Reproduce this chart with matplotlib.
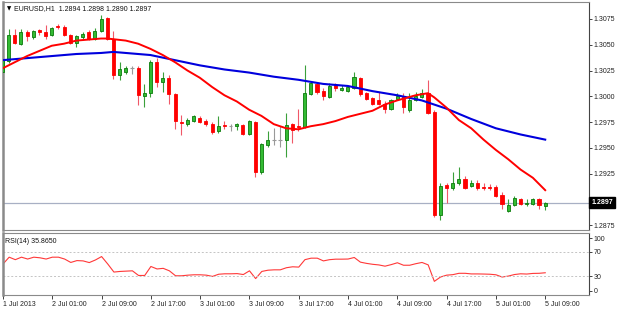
import numpy as np
import matplotlib.pyplot as plt
import matplotlib.transforms as mtransforms

# EURUSD H1 candles, 1 Jul 17:00 -> 5 Jul 09:00
opens = [1.3024, 1.3034, 1.3059, 1.3051, 1.3062, 1.3057, 1.3064, 1.3062, 1.3059, 1.3068,
         1.3067, 1.3059, 1.3052, 1.3057, 1.3062, 1.3056, 1.3063, 1.3076, 1.3056, 1.3021,
         1.3024, 1.3027, 1.3027, 1.3000, 1.3003, 1.3033, 1.3014, 1.3018, 1.3002, 1.2975,
         1.2973, 1.2976, 1.2979, 1.2976, 1.2973, 1.2966, 1.2972, 1.2971, 1.2971, 1.2972,
         1.2963, 1.2975, 1.2927, 1.2953, 1.2958, 1.2958, 1.2958, 1.2973, 1.2971, 1.2970,
         1.3002, 1.3012, 1.3005, 1.2999, 1.3011, 1.3006, 1.3005, 1.3008, 1.3018, 1.3003,
         1.2998, 1.2996, 1.2993, 1.2988, 1.2997, 1.3000, 1.2987, 1.2996, 1.2999, 1.3003,
         1.2985, 1.2885, 1.2914, 1.2911, 1.2916, 1.2920, 1.2913, 1.2916, 1.2912, 1.2912,
         1.2912, 1.2904, 1.2889, 1.2895, 1.2900, 1.2896, 1.2896, 1.2900, 1.2894]
highs = [1.3038, 1.3065, 1.3065, 1.3065, 1.3064, 1.3064, 1.3065, 1.3069, 1.3067, 1.3070,
         1.3069, 1.3060, 1.3059, 1.3062, 1.3064, 1.3066, 1.3079, 1.3077, 1.3063, 1.3033,
         1.3029, 1.3029, 1.3029, 1.3012, 1.3035, 1.3037, 1.3024, 1.3021, 1.3003, 1.2982,
         1.2979, 1.2982, 1.2981, 1.2978, 1.2975, 1.2981, 1.2976, 1.2973, 1.2974, 1.2973,
         1.2977, 1.2976, 1.2955, 1.2966, 1.2969, 1.2971, 1.2984, 1.2974, 1.2988, 1.3030,
         1.3014, 1.3013, 1.3008, 1.3013, 1.3013, 1.3011, 1.3010, 1.3024, 1.3019, 1.3004,
         1.2999, 1.3004, 1.2995, 1.2997, 1.3003, 1.3003, 1.3003, 1.3004, 1.3007, 1.3016,
         1.2987, 1.2916, 1.2916, 1.2927, 1.2931, 1.2923, 1.2919, 1.2919, 1.2916, 1.2915,
         1.2914, 1.2907, 1.2900, 1.2903, 1.2901, 1.2900, 1.2901, 1.2901, 1.2898]
lows = [1.3013, 1.3032, 1.3051, 1.3050, 1.3054, 1.3056, 1.3059, 1.3056, 1.3058, 1.3065,
        1.3058, 1.3051, 1.3048, 1.3056, 1.3055, 1.3055, 1.3062, 1.3055, 1.3017, 1.3016,
        1.3022, 1.3022, 1.2992, 1.2990, 1.2999, 1.3009, 1.3004, 1.2993, 1.2968, 1.2962,
        1.2971, 1.2975, 1.2974, 1.2971, 1.2963, 1.2964, 1.2968, 1.2966, 1.2967, 1.2962,
        1.2962, 1.2922, 1.2925, 1.2951, 1.2953, 1.2951, 1.2941, 1.2955, 1.2966, 1.2969,
        1.3001, 1.3002, 1.2996, 1.2998, 1.3005, 1.3005, 1.3004, 1.3007, 1.3000, 1.2996,
        1.2992, 1.2992, 1.2984, 1.2987, 1.2996, 1.2984, 1.2985, 1.2995, 1.2998, 1.2983,
        1.2883, 1.2880, 1.2897, 1.2909, 1.2914, 1.2910, 1.2912, 1.2909, 1.2909, 1.2909,
        1.2902, 1.2891, 1.2888, 1.2894, 1.2895, 1.2894, 1.2895, 1.2891, 1.2890]
closes = [1.3035, 1.3059, 1.3052, 1.3062, 1.3058, 1.3063, 1.3062, 1.3058, 1.3066, 1.3067,
          1.3059, 1.3052, 1.3058, 1.3060, 1.3056, 1.3063, 1.3075, 1.3056, 1.3021, 1.3026,
          1.3027, 1.3027, 1.3001, 1.3003, 1.3033, 1.3014, 1.3018, 1.3002, 1.2976, 1.2974,
          1.2977, 1.2981, 1.2975, 1.2973, 1.2965, 1.2971, 1.2971, 1.2971, 1.2973, 1.2963,
          1.2976, 1.2927, 1.2954, 1.2958, 1.2958, 1.2958, 1.2972, 1.2967, 1.2970, 1.3003,
          1.3013, 1.3004, 1.3000, 1.3010, 1.3008, 1.3008, 1.3009, 1.3019, 1.3002, 1.2997,
          1.2993, 1.2993, 1.2988, 1.2996, 1.3000, 1.2990, 1.2996, 1.3000, 1.3003, 1.2984,
          1.2885, 1.2913, 1.2911, 1.2916, 1.2920, 1.2911, 1.2916, 1.2911, 1.2911, 1.2911,
          1.2903, 1.2896, 1.2895, 1.2901, 1.2896, 1.2897, 1.2900, 1.2895, 1.2897]

# moving averages, sampled at bar indices
ma_fast_idx = [0, 4, 8, 10, 12, 14, 16, 17, 20, 22, 24, 26, 28, 30, 32, 34, 36, 38, 40, 42, 44,
               46, 48, 50, 52, 54, 56, 58, 60, 62, 64, 67, 69, 70, 72, 74, 76, 78, 80, 82, 84, 86, 88]
ma_fast = [1.3027, 1.3039, 1.3049, 1.3051, 1.3054, 1.3055, 1.3056, 1.3056, 1.3054, 1.3051,
           1.3046, 1.3040, 1.3033, 1.3025, 1.3018, 1.3009, 1.3001, 1.2995, 1.2987, 1.2981,
           1.2973, 1.2969, 1.2968, 1.2971, 1.2973, 1.2976, 1.2980, 1.2983, 1.2986, 1.2992,
           1.2996, 1.3001, 1.3003, 1.2999, 1.2989, 1.2977, 1.2969, 1.2958, 1.2948, 1.2939,
           1.2929, 1.2921, 1.2909]
ma_slow_idx = [0, 4, 8, 12, 16, 18, 20, 24, 28, 32, 36, 40, 44, 48, 52, 56, 60, 64, 68, 72, 76, 80, 84, 88]
ma_slow = [1.3035, 1.3037, 1.3039, 1.3041, 1.3042, 1.3043, 1.3042, 1.3040, 1.3035, 1.3030,
           1.3026, 1.3023, 1.3019, 1.3016, 1.3012, 1.3010, 1.3005, 1.3001, 1.2996, 1.2988,
           1.2978, 1.2969, 1.2963, 1.2958]

rsi = [50, 61, 57, 61, 58, 61, 60, 58, 61, 61, 58, 52.5, 55.5, 55, 52.3, 56.5, 62, 50, 37, 38,
       38.5, 39, 31.5, 31.5, 46, 42, 43, 39, 31, 31, 32, 32.6, 32.6, 32, 30, 33.5, 34.2, 34.2, 34.5, 33,
       39, 26.5, 38, 40, 40.6, 40.6, 44, 45.5, 45, 57, 59.4, 59.4, 55, 57, 57.8, 57.8, 58, 60.5, 53, 51,
       49.5, 48.5, 46.5, 49, 52, 48, 48, 50.5, 52.5, 48.6, 22, 29, 32, 32.8, 35, 35, 34, 34, 33.8, 33.5,
       32.6, 29, 30.5, 33, 34.2, 33.8, 34.8, 35, 35.865]

time_labels = ["1 Jul 2013", "2 Jul 01:00", "2 Jul 09:00", "2 Jul 17:00", "3 Jul 01:00", "3 Jul 09:00",
               "3 Jul 17:00", "4 Jul 01:00", "4 Jul 09:00", "4 Jul 17:00", "5 Jul 01:00", "5 Jul 09:00"]
price_ticks = [1.2875, 1.2925, 1.2950, 1.2975, 1.3000, 1.3025, 1.3050, 1.3075]
last_price = 1.2897

plt.rcParams['font.family'] = ['Liberation Sans', 'DejaVu Sans']
fs = 5

fig = plt.figure(figsize=(6.2, 3.1), dpi=100)
ax = fig.add_axes([3 / 620, 80 / 310, 586 / 620, 228 / 310])
ax2 = fig.add_axes([3 / 620, 15 / 310, 586 / 620, 62 / 310])

idx = np.arange(len(opens))
o = np.array(opens); h = np.array(highs); l = np.array(lows); c = np.array(closes)
up = c > o
dn = c < o
flat = c == o

# last price line
ax.axhline(last_price, color='#a8b0c4', lw=0.9, zorder=1)

# wicks
ax.vlines(idx[up], l[up], h[up], color='#3aa03a', lw=0.8, zorder=2)
ax.vlines(idx[dn], l[dn], h[dn], color='#f05868', lw=0.8, zorder=2)
ax.vlines(idx[flat], l[flat], h[flat], color='#999999', lw=0.8, zorder=2)

# bodies
minh = 0.00009
ax.bar(idx[up], np.maximum(c[up] - o[up], minh), bottom=o[up], width=0.5,
       color='#33bb33', edgecolor='#0a7a0a', lw=0.6, zorder=3)
ax.bar(idx[dn], np.maximum(o[dn] - c[dn], minh), bottom=c[dn], width=0.5,
       color='#ff0000', edgecolor='#ff0000', lw=0.6, zorder=3)
ax.hlines(c[flat], idx[flat] - 0.3, idx[flat] + 0.3, color='#999999', lw=0.8, zorder=3)

# moving averages
ax.plot(ma_slow_idx, ma_slow, color='#0000dd', lw=1.5, zorder=4)
ax.plot(ma_fast_idx, ma_fast, color='#ff0000', lw=1.4, zorder=4)

ax.set_xlim(0.1, 95.1)
ax.set_ylim(1.28704, 1.30914)
ax.set_xticks([])
ax.yaxis.tick_right()
ax.set_yticks(price_ticks)
ax.set_yticklabels([f"{p:.4f}" for p in price_ticks])
ax.tick_params(axis='y', labelsize=fs, length=2, width=0.6, pad=1.5, colors='#222222')

for a in (ax, ax2):
    for s in ('left', 'top', 'bottom'):
        a.spines[s].set_color('#8a8a8a')
    a.spines['left'].set_linewidth(1.8)
    a.spines['right'].set_color('#444444')
    a.spines['right'].set_linewidth(0.8)

# current price box
trans = mtransforms.blended_transform_factory(ax.transAxes, ax.transData)
ax.text(1.004, last_price, f"{last_price:.4f}", transform=trans, fontsize=fs, color='white',
        va='center', ha='left', fontweight='bold',
        bbox=dict(boxstyle='square,pad=0.35', fc='black', ec='black'), zorder=10, clip_on=False)

# header
ax.text(0.006, 0.972, "\u25bc", transform=ax.transAxes, fontsize=4, va='center', ha='left',
        family=['DejaVu Sans'])
ax.text(0.019, 0.972, "EURUSD,H1  1.2894 1.2898 1.2890 1.2897", transform=ax.transAxes,
        fontsize=fs, va='center', ha='left', color='#111111')

# RSI panel
ax2.plot(idx, rsi, color='#ff3838', lw=0.8)
ax2.axhline(70, color='#c4c4c4', lw=0.7, ls=(0, (2, 2)))
ax2.axhline(30, color='#c4c4c4', lw=0.7, ls=(0, (2, 2)))
ax2.set_xlim(0.1, 95.1)
ax2.set_ylim(0, 100)
ax2.yaxis.tick_right()
ax2.set_yticks([7, 30, 70, 91.4])
ax2.set_yticklabels(['0', '30', '70', '100'])
ax2.tick_params(axis='y', labelsize=fs, length=2, width=0.6, pad=1.5, colors='#222222')
ax2.set_xticks(idx[::8])
ax2.set_xticklabels(time_labels, ha='left')
ax2.tick_params(axis='x', labelsize=fs, length=3, width=0.6, pad=1.5, colors='#222222')
ax2.text(0.004, 0.86, f"RSI(14) {rsi[-1]:.4f}", transform=ax2.transAxes, fontsize=fs,
         va='center', ha='left', color='#111111')

fig.savefig('out.png', dpi=100)
